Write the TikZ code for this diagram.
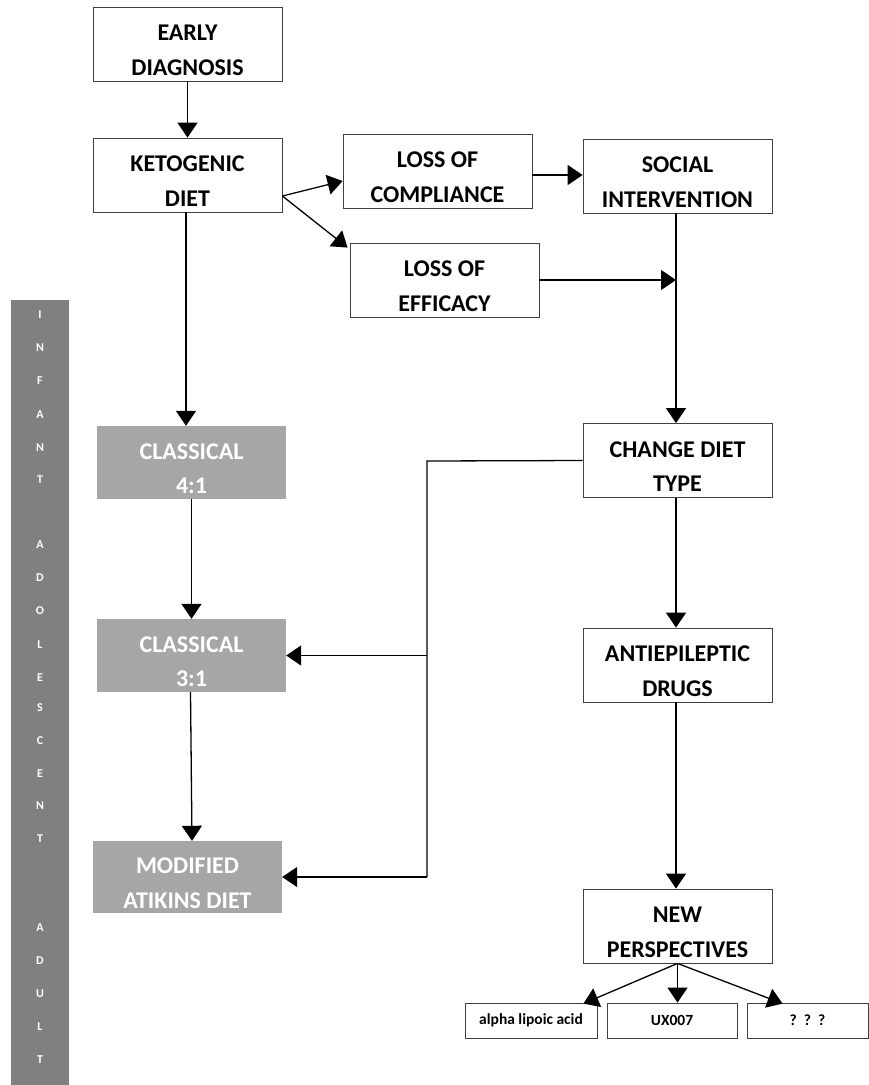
\documentclass[tikz,border=0pt]{standalone}
\usepackage{fontspec}
\setmainfont{Carlito}
\usetikzlibrary{arrows.meta}
\newcommand{\topstrut}{\rule{0pt}{28pt}}

\begin{document}
\begin{tikzpicture}[x=1pt,y=-1pt]
	\tikzstyle{every node}=[font=\bfseries\fontsize{24}{34.5}\selectfont,align=center,inner sep=0pt]
	\tikzstyle{box}=[draw=black!75,line width=0.8pt,fill=white,minimum width=189pt,minimum height=74pt]
	\tikzstyle{greybox}=[fill=black!35,text=white,minimum width=189pt,minimum height=73pt]
	\tikzstyle{smallbox}=[draw=black!75,line width=0.8pt,minimum height=35pt,font=\bfseries\fontsize{15.5}{17}\selectfont]
	\tikzstyle{link}=[line width=1.3pt,-{Triangle[width=20pt,length=15pt]}]
	\useasboundingbox (0,0) rectangle (869,1085);
	\node[fill=black!50,minimum width=58pt,minimum height=785pt] (bar) at (40,692.5) {};
	\foreach \l/\y in {I/315,N/348,F/381,A/415,N/448,T/480,A/545,D/578,O/611,L/645,E/678,S/708,C/741,E/774,N/806,T/839,A/928,D/961,U/994,L/1027,T/1060}
		\node[text=white,font=\bfseries\fontsize{12}{13}\selectfont] at (40,\y) {\l};
	\node[box] (early) at (187.5,44) {\topstrut EARLY\\DIAGNOSIS};
	\node[box] (keto) at (187.5,175) {\topstrut KETOGENIC\\DIET};
	\node[box] (compl) at (437.5,171) {\topstrut LOSS OF\\COMPLIANCE};
	\node[box] (social) at (677.5,176) {\topstrut SOCIAL\\INTERVENTION};
	\node[box] (effic) at (444.5,280) {\topstrut LOSS OF\\EFFICACY};
	\node[greybox] (cl41) at (191.5,462.5) {\topstrut CLASSICAL\\4:1};
	\node[box] (change) at (677.5,460.5) {\topstrut CHANGE DIET\\TYPE};
	\node[greybox] (cl31) at (191.5,655.5) {\topstrut CLASSICAL\\3:1};
	\node[box] (aed) at (677.5,665) {\topstrut ANTIEPILEPTIC\\DRUGS};
	\node[greybox,minimum height=72pt] (modif) at (187.5,877) {\topstrut MODIFIED\\ATIKINS DIET};
	\node[box] (newp) at (677.5,926) {\topstrut NEW\\PERSPECTIVES};
	\node[smallbox,minimum width=132pt] (alpha) at (531,1020.5) {alpha lipoic acid};
	\node[smallbox,minimum width=130pt] (ux) at (672,1020.5) {UX007};
	\node[smallbox,minimum width=121pt] (qqq) at (807.5,1020.5) {?\ \ ?\ \ ?};
	\coordinate (jt) at (427,461);
	\coordinate (jb) at (427,877);
	\draw[link] (early) -- (keto);
	\draw[link] ([yshift=-21pt]keto.east) -- ([yshift=-10pt]compl.west);
	\draw[link] ([yshift=-21pt]keto.east) -- ([xshift=-2pt,yshift=-5pt]effic.north west);
	\draw[link] ([yshift=-4pt]compl.east) -- ([yshift=-4pt]compl.east -| social.west);
	\draw[link] (effic.east) -- ([xshift=-1.5pt]effic.east -| social.south);
	\draw[link] ([xshift=-1.5pt]social.south) -- ([xshift=-1.5pt]change.north);
	\draw[link] ([xshift=-1.5pt]keto.south) -- ([xshift=-1.5pt]keto.south |- cl41.north);
	\draw[link] (cl41) -- (cl31);
	\draw[link] ([xshift=-1pt]cl31.south) -- ([xshift=0.5pt]cl31.south |- modif.north);
	\draw[line width=1.3pt] (change.west) -- (jt) -- (jb);
	\draw[link] (jt |- cl31.east) -- (cl31.east);
	\draw[link] (jb) -- (modif.east);
	\draw[link] ([xshift=-1.5pt]change.south) -- ([xshift=-1.5pt]aed.north);
	\draw[link] ([xshift=-1.5pt]aed.south) -- ([xshift=-1.5pt]newp.north);
	\draw[link] (newp.south) -- ([xshift=-14pt,yshift=-1pt]alpha.north east);
	\draw[link] (newp.south) -- (newp.south |- ux.north);
	\draw[link] (newp.south) -- ([xshift=36pt,yshift=-1pt]qqq.north west);
\end{tikzpicture}
\end{document}
